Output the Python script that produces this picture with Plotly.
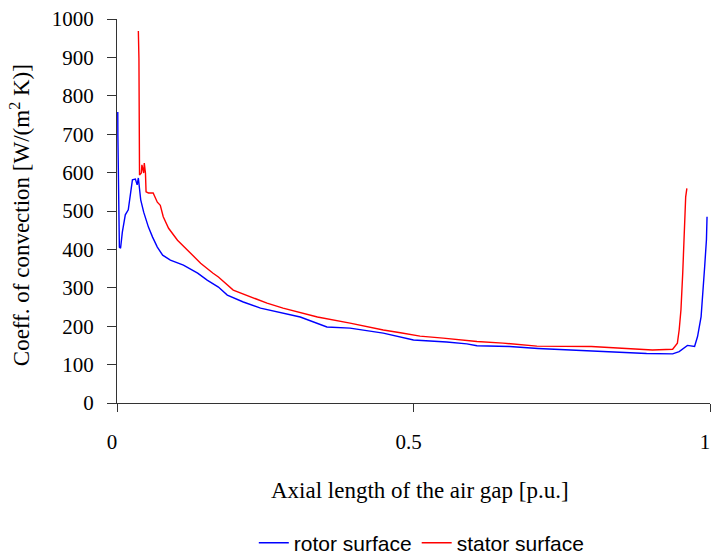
import plotly.graph_objects as go

rotor_x = [0.0013, 0.0015, 0.004, 0.006, 0.009, 0.014, 0.019, 0.023, 0.026, 0.031, 0.034, 0.036,
           0.038, 0.040, 0.045, 0.053, 0.060, 0.068, 0.077, 0.090, 0.112, 0.136, 0.152, 0.171,
           0.186, 0.213, 0.242, 0.280, 0.309, 0.354, 0.393, 0.449, 0.480, 0.500, 0.556, 0.590,
           0.607, 0.662, 0.710, 0.769, 0.808, 0.848, 0.893, 0.937, 0.948, 0.962, 0.974, 0.979,
           0.985, 0.991, 0.994, 0.995]
rotor_y = [758, 695, 406, 403, 445, 490, 503, 547, 581, 583, 568, 586,
           555, 529, 497, 458, 432, 406, 385, 372, 359, 338, 320, 302,
           281, 263, 247, 234, 224, 198, 195, 182, 170, 164, 159, 154,
           149, 147, 142, 138, 136, 132, 129, 128, 134, 150, 147, 173,
           225, 355, 425, 485]

stator_x = [0.036, 0.037, 0.038, 0.041, 0.042, 0.045, 0.046, 0.048, 0.049, 0.053, 0.061, 0.068,
            0.073, 0.078, 0.087, 0.102, 0.119, 0.141, 0.162, 0.171, 0.196, 0.225, 0.253, 0.280,
            0.338, 0.393, 0.449, 0.478, 0.511, 0.550, 0.607, 0.651, 0.708, 0.800, 0.865, 0.881,
            0.903, 0.937, 0.945, 0.948, 0.951, 0.954, 0.957, 0.959, 0.961]
stator_y = [969, 898, 594, 599, 620, 599, 625, 599, 550, 547, 547, 523,
            515, 485, 455, 424, 398, 364, 338, 328, 294, 276, 260, 247,
            224, 208, 190, 183, 174, 169, 160, 156, 148, 147, 142, 140,
            138, 140, 156, 190, 242, 338, 442, 537, 559]

x_ticks = [0, 0.5, 1]
x_tick_labels = ["0", "0.5", "1"]
y_ticks = list(range(0, 1001, 100))

serif = "Liberation Serif"
sans = "Liberation Sans"

fig = go.Figure()
fig.add_trace(go.Scatter(x=rotor_x, y=rotor_y, mode="lines", name="rotor surface",
                         line=dict(color="#0000FF", width=1.4)))
fig.add_trace(go.Scatter(x=stator_x, y=stator_y, mode="lines", name="stator surface",
                         line=dict(color="#FF0000", width=1.4)))

fig.update_layout(
    width=712, height=559,
    margin=dict(l=116.5, r=1.5, t=19, b=156, autoexpand=False),
    paper_bgcolor="white", plot_bgcolor="white",
    showlegend=True,
    legend=dict(orientation="h", x=0.514, xanchor="center", y=-0.365, yanchor="middle",
                font=dict(family=sans, size=21, color="black"), itemwidth=30,
                bgcolor="rgba(0,0,0,0)"),
    xaxis=dict(range=[0, 1], tickvals=x_ticks, ticktext=x_tick_labels, showgrid=False,
               zeroline=False, showline=True, linecolor="#333333", linewidth=1.2,
               ticks="outside", ticklen=8, tickcolor="#333333", tickwidth=1.2,
               ticklabelstandoff=12, ticklabelshift=-5, ticklabeloverflow="allow",
               automargin=False,
               tickfont=dict(family=serif, size=21, color="black")),
    yaxis=dict(range=[0, 1000], tickvals=y_ticks, showgrid=False, zeroline=False,
               showline=True, linecolor="#333333", linewidth=1.2,
               ticks="outside", ticklen=9, tickcolor="#333333", tickwidth=1.2,
               ticklabelstandoff=9, ticklabeloverflow="allow", automargin=False,
               tickfont=dict(family=serif, size=21, color="black")),
    annotations=[
        dict(text="Axial length of the air gap [p.u.]", xref="paper", yref="paper",
             x=0.511, y=-0.2266, xanchor="center", yanchor="middle", showarrow=False,
             font=dict(family=serif, size=23, color="black")),
        dict(text="Coeff. of convection [W/(m<sup>2</sup> K)]", xref="paper", yref="paper",
             x=-0.163, y=0.49, xanchor="center", yanchor="middle", showarrow=False,
             textangle=-90, font=dict(family=serif, size=23, color="black")),
    ],
)

fig.write_html("out.html")
